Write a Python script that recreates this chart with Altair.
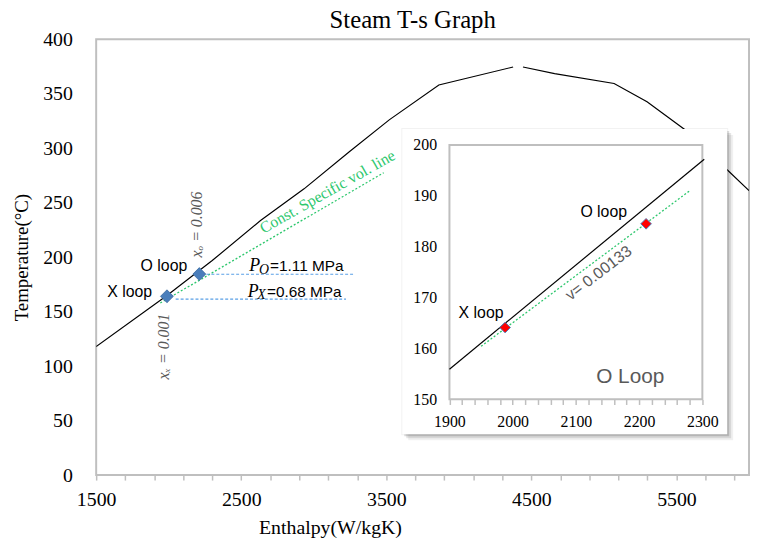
import altair as alt
import pandas as pd

# ---------------- data ----------------
# saturation dome (two branches, gap at the critical point)
sat_H = [1500, 1988, 2300, 2633, 2933, 3247, 3520, 3862, 4374,
         4442, 4660, 5070, 5297, 5559, 5851, 6000]
sat_T = [118, 164.9, 196.9, 233.6, 262.7, 297, 326, 358, 374.5,
         374.5, 368.5, 359.4, 342.7, 317, 280, 261]
sat_branch = ["left"] * 9 + ["right"] * 7

loop_names = ["X loop", "O loop"]
loop_H = [1988, 2211]
loop_T = [164.1, 184.5]

vol_H = [1942, 3482]
vol_T = [157.9, 277.5]

press_line = ["O", "O", "X", "X"]
press_H = [2260, 3284, 2048, 3222]
press_T = [184.3, 184.3, 161.5, 161.5]

# main annotations
lbl_text = ["O loop", "X loop"]
lbl_H = [1967, 1731]
lbl_T = [191.8, 167.7]

p_text = ["P", "P"]
p_H = [2556, 2544]
p_T = [187.5, 163.9]
psub_text = ["O", "X"]
psub_H = [2622, 2611]
psub_T = [184.8, 161.2]
pval_text = ["=1.11 MPa", "=0.68 MPa"]
pval_H = [2699, 2677]
pval_T = [187.5, 163.9]

xq_text = ["x\u2092 = 0.006", "x\u2093 = 0.001"]
xq_H = [2193, 1971]
xq_T = [230, 118]

vol_lbl_text = ["Const. Specific vol. line"]
vol_lbl_H = [3095]
vol_lbl_T = [260]

# inset
in_curve_h = [1900, 2303]
in_curve_t = [155.9, 197.2]
in_vol_h = [1950, 2281]
in_vol_t = [160.4, 191.1]
in_pts_h = [1988, 2211]
in_pts_t = [164.1, 184.5]
in_lbl_text = ["X loop", "O loop"]
in_lbl_h = [1950, 2144]
in_lbl_t = [167.0, 186.8]
in_v_text = ["v= 0.00133"]
in_v_h = [2136]
in_v_t = [174.8]
in_big_text = ["O Loop"]
in_big_h = [2186]
in_big_t = [154.4]

x_tick_values = list(range(1500, 6001, 200))
y_tick_values = list(range(0, 401, 50))
in_x_ticks = list(range(1900, 2301, 20))
in_y_ticks = list(range(150, 201, 10))

# ---------------- styling ----------------
SERIF = "Liberation Serif"
SANS = "Liberation Sans"
FRAME = "#bfbfbf"
W, H = 659, 440

x_main = alt.X(
    "H:Q",
    scale=alt.Scale(domain=[1500, 6000], nice=False, zero=False),
    axis=alt.Axis(
        orient="bottom", values=x_tick_values, format="d",
        labelExpr="(datum.value - 1500) % 1000 == 0 ? datum.label : ''",
        title="Enthalpy(W/kgK)", titleFont=SERIF, titleFontSize=20,
        titleFontWeight="normal", titleColor="black",
        titleX=236, titleY=53, titleBaseline="middle", titleAlign="center",
        labelFont=SERIF, labelFontSize=20, labelColor="black", labelPadding=10,
        labelFlush=False, labelOverlap=False,
        tickSize=5, tickColor=FRAME, tickWidth=1.5, domain=False, grid=False,
    ),
)
y_main = alt.Y(
    "T:Q",
    scale=alt.Scale(domain=[0, 400], nice=False, zero=False),
    axis=alt.Axis(
        orient="left", values=y_tick_values, format="d",
        title="Temperature(\u00b0C)", titleFont=SERIF, titleFontSize=19,
        titleFontWeight="normal", titleColor="black",
        titleX=-75, titleY=H / 2, titleBaseline="middle", titleAlign="center",
        titleAngle=270,
        labelFont=SERIF, labelFontSize=20, labelColor="black", labelPadding=24,
        ticks=False, domain=False, grid=False, labelOverlap=False,
    ),
)

x_in = alt.X(
    "h:Q",
    scale=alt.Scale(domain=[1900, 2300], range=[356.6, 611.9], nice=False, zero=False),
    axis=alt.Axis(
        orient="bottom", offset=-76.3, values=in_x_ticks, format="d",
        labelExpr="datum.value % 100 == 0 ? datum.label : ''",
        title=None, labelFont=SERIF, labelFontSize=16, labelColor="black",
        labelPadding=9, labelFlush=False, labelOverlap=False,
        tickSize=5, tickColor=FRAME, tickWidth=1.5, domain=False, grid=False, zindex=1,
    ),
)
y_in = alt.Y(
    "t:Q",
    scale=alt.Scale(domain=[150, 200], range=[363.4, 106.8], nice=False, zero=False),
    axis=alt.Axis(
        orient="left", offset=-356.6, values=in_y_ticks, format="d",
        title=None, labelFont=SERIF, labelFontSize=16, labelColor="black",
        labelPadding=13, ticks=False, domain=False, grid=False, labelOverlap=False,
        zindex=1,
    ),
)


def main_text(texts, hs, ts, **kw):
    df = pd.DataFrame({"H": hs, "T": ts, "label": texts})
    return alt.Chart(df).mark_text(**kw).encode(x=x_main, y=y_main, text="label:N")


def inset_text(texts, hs, ts, **kw):
    df = pd.DataFrame({"h": hs, "t": ts, "label": texts})
    return alt.Chart(df).mark_text(**kw).encode(x=x_in, y=y_in, text="label:N")


# ---------------- main layers ----------------
sat_df = pd.DataFrame({"H": sat_H, "T": sat_T, "branch": sat_branch})
sat = alt.Chart(sat_df).mark_line(color="black", strokeWidth=1.2, clip=True).encode(
    x=x_main, y=y_main, detail="branch:N")

vol_df = pd.DataFrame({"H": vol_H, "T": vol_T})
vol = alt.Chart(vol_df).mark_line(color="#2dc76d", strokeWidth=1.3, strokeDash=[2, 2]).encode(
    x=x_main, y=y_main)

press_df = pd.DataFrame({"H": press_H, "T": press_T, "line": press_line})
press = alt.Chart(press_df).mark_line(color="#5aa0e6", strokeWidth=1.2, strokeDash=[3, 2]).encode(
    x=x_main, y=y_main, detail="line:N")

pts_df = pd.DataFrame({"H": loop_H, "T": loop_T, "loop": loop_names})
pts = alt.Chart(pts_df).mark_point(shape="diamond", filled=True, fill="#4a7ebb",
                                   stroke="#3b6aa0", strokeWidth=0.8, size=170, opacity=1).encode(
    x=x_main, y=y_main)

t_loops = main_text(lbl_text, lbl_H, lbl_T, font=SANS, fontSize=16, color="black")
t_p = main_text(p_text, p_H, p_T, font=SERIF, fontSize=18, fontStyle="italic",
                color="black", align="left", baseline="alphabetic")
t_psub = main_text(psub_text, psub_H, psub_T, font=SERIF, fontSize=14, fontStyle="italic",
                   color="black", align="left", baseline="alphabetic")
t_pval = main_text(pval_text, pval_H, pval_T, font=SANS, fontSize=15.5,
                   color="black", align="left", baseline="alphabetic")
t_xq = main_text(xq_text, xq_H, xq_T, font=SERIF, fontSize=16, fontStyle="italic",
                 color="#595959", angle=270)
t_vol = main_text(vol_lbl_text, vol_lbl_H, vol_lbl_T, font=SERIF, fontSize=16,
                  color="#2dc76d", angle=330.5)

main = alt.layer(sat, vol, press, pts, t_loops, t_p, t_psub, t_pval, t_xq, t_vol)

# ---------------- inset layers ----------------
one = pd.DataFrame({"k": [0]})
BX0, BX1, BY0, BY1 = 309, 637, 90.7, 398.7
shadows = [
    alt.Chart(one).mark_rect(color="black", opacity=op).encode(
        x=alt.value(BX0 + d), x2=alt.value(BX1 + d), y=alt.value(BY0 + d), y2=alt.value(BY1 + d))
    for d, op in [(6, 0.06), (4, 0.1), (2, 0.14)]
]
halo = alt.Chart(one).mark_rect(color="black", opacity=0.05).encode(
    x=alt.value(BX0 - 1), x2=alt.value(BX1 + 1), y=alt.value(BY0 - 1), y2=alt.value(BY1 + 1))
box = alt.Chart(one).mark_rect(color="white", opacity=1).encode(
    x=alt.value(BX0), x2=alt.value(BX1), y=alt.value(BY0), y2=alt.value(BY1))
frame = alt.Chart(one).mark_rect(filled=False, stroke=FRAME, strokeWidth=2).encode(
    x=alt.value(356.6), x2=alt.value(611.9), y=alt.value(106.8), y2=alt.value(363.4))

in_curve = alt.Chart(pd.DataFrame({"h": in_curve_h, "t": in_curve_t})).mark_line(
    color="black", strokeWidth=1.2).encode(x=x_in, y=y_in)
in_vol = alt.Chart(pd.DataFrame({"h": in_vol_h, "t": in_vol_t})).mark_line(
    color="#2dc76d", strokeWidth=1.3, strokeDash=[2, 2]).encode(x=x_in, y=y_in)
in_pts = alt.Chart(pd.DataFrame({"h": in_pts_h, "t": in_pts_t})).mark_point(
    shape="diamond", filled=True, fill="#ff0000", stroke="#4a7ebb", strokeWidth=1,
    size=115, opacity=1).encode(x=x_in, y=y_in)

in_t_loops = inset_text(in_lbl_text, in_lbl_h, in_lbl_t, font=SANS, fontSize=16, color="black")
in_t_v = inset_text(in_v_text, in_v_h, in_v_t, font=SANS, fontSize=16, color="#595959", angle=322.4)
in_t_big = inset_text(in_big_text, in_big_h, in_big_t, font=SANS, fontSize=21, color="#595959")

inset = alt.layer(*shadows, halo, box, frame, in_curve, in_vol, in_pts,
                  in_t_loops, in_t_v, in_t_big)

chart = (
    alt.layer(main, inset)
    .resolve_scale(x="independent", y="independent")
    .properties(
        width=W, height=H,
        title=alt.TitleParams("Steam T-s Graph", font=SERIF, fontSize=25, fontWeight="normal",
                              color="black", anchor="middle", offset=-4, dx=-10),
        autosize=alt.AutoSizeParams(type="none"),
        padding={"left": 89, "top": 29, "right": 2, "bottom": 64},
    )
    .configure_view(stroke=FRAME, strokeWidth=2)
)

chart.save("out.html", embed_options={"renderer": "svg", "actions": False})
